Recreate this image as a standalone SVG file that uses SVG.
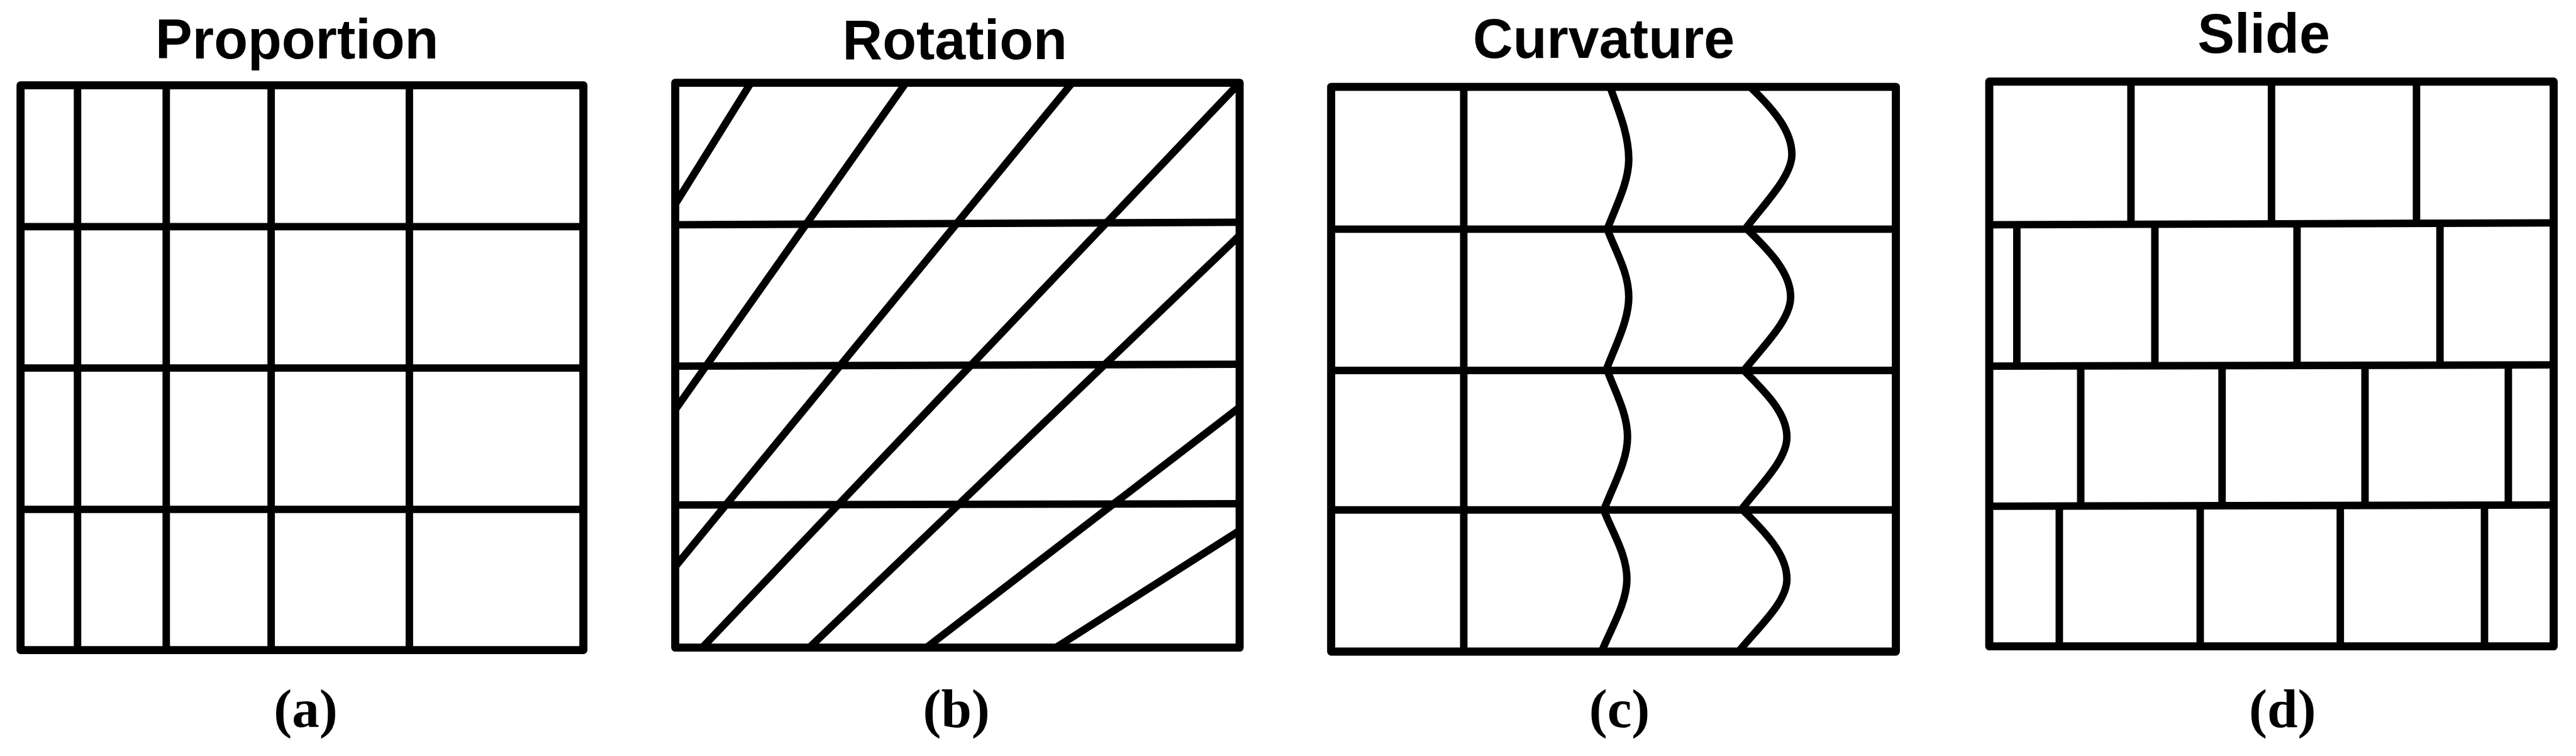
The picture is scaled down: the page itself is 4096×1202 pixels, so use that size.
<svg xmlns="http://www.w3.org/2000/svg" width="4096" height="1202" viewBox="0 0 4096 1202">
<style>
.ln{fill:none;stroke:#000;stroke-width:12;stroke-linejoin:round;stroke-linecap:butt}
.fr{fill:none;stroke:#000;stroke-width:13;stroke-linejoin:round}
.ttl{font-family:"Liberation Sans",Arial,sans-serif;font-weight:bold;font-size:89px;text-anchor:middle;fill:#000}
.lbl{font-family:"Liberation Serif","Times New Roman",serif;font-weight:bold;font-size:88px;text-anchor:middle;fill:#000}
</style>
<rect width="4096" height="1202" fill="#fff"/>
<g transform="scale(0.99)">
<g id="panel-a">
<text class="ttl" x="477" y="94">Proportion</text>
<path class="ln" d="M124.5,137V1044 M267,137V1044 M435.5,137V1044 M657.5,137V1044 M33,364H937 M33,591H937 M33,818H937"/>
<rect class="fr" x="33" y="137" width="904" height="907"/>
<text class="lbl" x="491" y="1168">(a)</text>
</g>
<g id="panel-b">
<text class="ttl" x="1533.5" y="95">Rotation</text>
<path class="ln" d="M1084.5,361L1991,357 M1084.5,588L1991,585 M1084.5,811L1991,809"/>
<path class="ln" d="M1206,133L1084.5,328 M1455,133L1084.5,658 M1722,133L1084.5,910 M1991,133L1128,1040 M1991,378L1300,1040 M1991,654L1488,1040 M1991,852L1696,1040"/>
<rect class="fr" x="1084.5" y="133" width="906.5" height="907"/>
<text class="lbl" x="1536" y="1168">(b)</text>
</g>
<g id="panel-c">
<text class="ttl" x="2576" y="93">Curvature</text>
<path class="ln" d="M2351,139.5V1046.5 M2138,368H3045 M2138,595H3045 M2138,819H3045"/>
<path class="ln" d="M2586,139.5C2598,174 2616,214 2616,256C2616,292 2596,330 2581.5,368 M2581.5,368C2594,402 2616,437 2616,477C2616,515 2594,556 2579.5,595 M2581.5,595C2594,629 2614,664 2614,702C2614,740 2591,780 2576,819 M2576,819C2589,854 2613,890 2613,930C2613,968 2588,1008 2572.5,1046.5"/>
<path class="ln" d="M2811,139.5C2848,175 2878,210 2878,248C2878,284 2833,328 2803,368 M2806,368C2843,404 2876,438 2876,477C2876,514 2832,556 2801,595 M2801,595C2837,631 2870,664 2870,702C2870,739 2826,780 2796.5,819 M2799,819C2836,855 2870,891 2870,930C2870,968 2823,1008 2792.5,1046.5"/>
<rect class="fr" x="2138" y="139.5" width="907" height="907"/>
<text class="lbl" x="2601" y="1168">(c)</text>
</g>
<g id="panel-d">
<text class="ttl" x="3636" y="85">Slide</text>
<path class="ln" d="M3195,361L4101.5,358 M3195,588L4101.5,586 M3195,813L4101.5,811"/>
<path class="ln" d="M3422.6,131V360 M3648.3,131V360 M3881.2,131V359 M3239.3,361V588 M3461,361V588 M3689.3,360V587 M3918.9,359V587 M3341.9,588V813 M3568.9,588V813 M3798.5,587V812 M4028.7,586V812 M3307.5,813V1038 M3533.8,813V1038 M3758.8,812V1038 M3990.4,812V1038"/>
<rect class="fr" x="3195" y="131" width="906.5" height="907"/>
<text class="lbl" x="3666" y="1168">(d)</text>
</g>
</g>
</svg>
